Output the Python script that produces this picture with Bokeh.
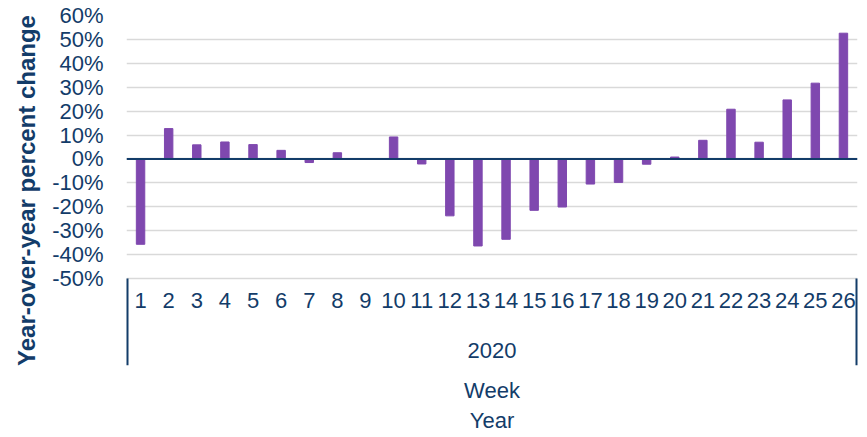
from bokeh.plotting import figure
from bokeh.models import FixedTicker, PrintfTickFormatter, Span, Range1d
from bokeh.core.properties import value
from bokeh.embed import file_html
from bokeh.resources import INLINE

# ---- data ----
weeks = list(range(1, 27))
week_labels = [str(w) for w in weeks]
year_label = "2020"
pct_change = [-35.7, 12.7, 5.9, 7.1, 6.0, 3.6, -1.5, 2.6, 0.0, 9.2, -2.1,
              -23.8, -36.4, -33.6, -21.5, -20.1, -10.5, -9.8, -2.2, 0.8,
              7.8, 20.8, 7.0, 24.7, 31.7, 52.6]
y_ticks = list(range(-50, 61, 10))

NAVY = "#133C69"
PURPLE = "#7F48AF"
FONT = "Liberation Sans"

# layout (pixels)
W, H = 867, 437
LEFT, RIGHT, TOP, BOTTOM = 126, 10, 15, 72
grid_px = 263                      # height from -50% to 60%
px_per_unit = grid_px / (y_ticks[-1] - y_ticks[0])
below_px = H - TOP - BOTTOM - grid_px   # label zone inside the frame
y_start = y_ticks[0] - below_px / px_per_unit

p = figure(width=W, height=H, output_backend="svg", toolbar_location=None,
           x_range=Range1d(weeks[0] - 0.5, weeks[-1] + 0.5),
           y_range=Range1d(y_start, y_ticks[-1]),
           min_border_left=LEFT, min_border_right=RIGHT, min_border_top=TOP,
           min_border_bottom=BOTTOM)
p.outline_line_color = None
p.background_fill_color = "white"
p.border_fill_color = "white"

p.vbar(x=weeks, top=pct_change, bottom=0, width=0.3, color=PURPLE)

# y axis
p.yaxis.ticker = FixedTicker(ticks=y_ticks)
p.yaxis.formatter = PrintfTickFormatter(format="%d%%")
p.yaxis.axis_line_color = None
p.yaxis.major_tick_line_color = None
p.yaxis.minor_tick_line_color = None
p.yaxis.major_tick_out = 0
p.yaxis.major_tick_in = 0
p.yaxis.major_label_standoff = 23
p.yaxis.major_label_text_font = FONT
p.yaxis.major_label_text_font_size = "22px"
p.yaxis.major_label_text_color = NAVY
p.yaxis.axis_label = "Year-over-year percent change"
p.yaxis.axis_label_text_font = FONT
p.yaxis.axis_label_text_font_size = "24px"
p.yaxis.axis_label_text_font_style = "bold"
p.yaxis.axis_label_text_color = NAVY
p.yaxis.axis_label_standoff = 9

# grid
p.xgrid.grid_line_color = None
p.ygrid.ticker = FixedTicker(ticks=y_ticks)
p.ygrid.grid_line_color = "#D9D9D9"
p.ygrid.grid_line_width = 1.3

# x axis: only the title
p.xaxis.ticker = FixedTicker(ticks=[])
p.xaxis.axis_line_color = None
p.xaxis.major_tick_line_color = None
p.xaxis.minor_tick_line_color = None
p.xaxis.major_tick_out = 0
p.xaxis.major_tick_in = 0
p.xaxis.minor_tick_out = 0
p.xaxis.minor_tick_in = 0
p.xaxis.major_label_standoff = 0
p.xaxis.axis_label = "Week\nYear"
p.xaxis.axis_label_text_font = FONT
p.xaxis.axis_label_text_font_size = "22px"
p.xaxis.axis_label_text_font_style = "normal"
p.xaxis.axis_label_text_color = NAVY
p.xaxis.axis_label_standoff = 12

# zero line
p.add_layout(Span(location=0, dimension="width", line_color=NAVY, line_width=2))

# category labels (week, year) inside the label zone
p.text(x=weeks, y=[y_ticks[0]] * len(weeks), text=week_labels, y_offset=22,
       text_align="center", text_baseline="middle", text_font=value(FONT),
       text_font_size="22px", text_color=NAVY)
mid = (weeks[0] + weeks[-1]) / 2
p.text(x=[mid], y=[y_ticks[0]], text=[year_label], y_offset=72,
       text_align="center", text_baseline="middle", text_font=value(FONT),
       text_font_size="22px", text_color=NAVY)

# group separators
edges = [weeks[0] - 0.5, weeks[-1] + 0.5]
p.segment(x0=edges, x1=edges, y0=[y_ticks[0]] * 2, y1=[y_start] * 2,
          line_color=NAVY, line_width=4)

open("out.html", "w").write(file_html(p, INLINE))
